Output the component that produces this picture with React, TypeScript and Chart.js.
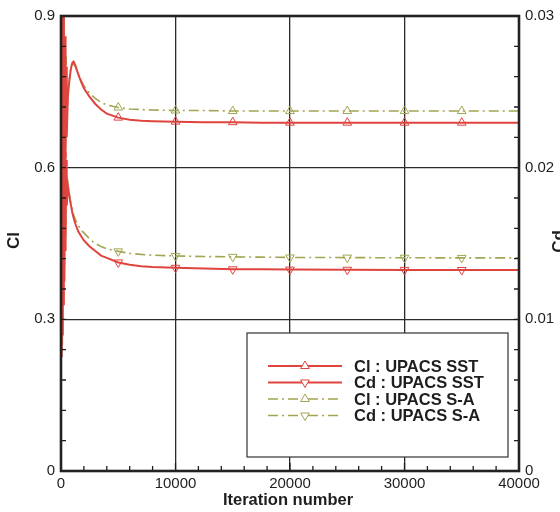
import { useEffect, useRef } from "react";
import { Chart, registerables } from "chart.js";

Chart.register(...registerables);

// Iteration numbers at which the coefficients are sampled
const iterations = [
  0, 40, 80, 120, 160, 200, 250, 300, 350, 400, 450, 500, 600, 700, 800, 900, 1000,
  1100, 1250, 1500, 1750, 2000, 2500, 3000, 3500, 4000, 5000, 6000, 7000, 8000,
  10000, 12500, 15000, 17500, 20000, 25000, 30000, 35000, 40000,
];

// Lift coefficient, SST turbulence model
const clSST = [
  0.98, 0.45, 0.95, 0.5, 0.92, 0.55, 0.9, 0.58, 0.86, 0.62, 0.8, 0.66, 0.74, 0.765, 0.785, 0.8, 0.808,
  0.81, 0.803, 0.785, 0.77, 0.757, 0.74, 0.726, 0.715, 0.707, 0.699, 0.695, 0.693, 0.692,
  0.691, 0.69, 0.69, 0.689, 0.689, 0.689, 0.689, 0.689, 0.689,
];

// Drag coefficient, SST turbulence model
const cdSST = [
  0.0205, 0.0075, 0.019, 0.009, 0.0205, 0.011, 0.0195, 0.0125, 0.021, 0.0145, 0.0205, 0.0175, 0.0188, 0.0183, 0.0178, 0.0174, 0.017,
  0.0167, 0.0163, 0.0158, 0.0155, 0.0152, 0.0148, 0.0145, 0.0142, 0.01405, 0.01375, 0.0136, 0.0135, 0.01345,
  0.0134, 0.01335, 0.0133, 0.0133, 0.01328, 0.01327, 0.01326, 0.01325, 0.01325,
];

// Lift coefficient, Spalart-Allmaras model
const clSA = [
  0.92, 0.6, 0.98, 0.47, 0.88, 0.62, 0.93, 0.6, 0.84, 0.64, 0.82, 0.68, 0.75, 0.77, 0.79, 0.8, 0.805,
  0.805, 0.8, 0.786, 0.773, 0.762, 0.747, 0.737, 0.729, 0.724, 0.719, 0.716, 0.715, 0.714,
  0.713, 0.713, 0.712, 0.712, 0.712, 0.712, 0.712, 0.712, 0.712,
];

// Drag coefficient, Spalart-Allmaras model
const cdSA = [
  0.019, 0.01, 0.0215, 0.008, 0.019, 0.0125, 0.021, 0.0135, 0.02, 0.0155, 0.0195, 0.018, 0.019, 0.0184, 0.0179, 0.0175, 0.0172,
  0.0169, 0.0166, 0.0162, 0.0159, 0.0157, 0.0153, 0.015, 0.0148, 0.01465, 0.01448, 0.01435, 0.01428, 0.01423,
  0.01418, 0.01414, 0.01412, 0.0141, 0.01408, 0.01407, 0.01406, 0.01405, 0.01405,
];

const xTicks = [0, 10000, 20000, 30000, 40000];
const clTicks = [0, 0.3, 0.6, 0.9];
const cdTicks = [0, 0.01, 0.02, 0.03];
const xMinorStep = 2000;
const cdMinorStep = 0.002;
const markerEvery = 5000;

const seriesLabels = ["Cl : UPACS SST", "Cd : UPACS SST", "Cl : UPACS S-A", "Cd : UPACS S-A"];

const RED = "#e0443e";
const OLIVE = "#a2a552";
const SA_DASH = [10, 4, 2, 4];
const INK = "#1e1e1e";
const FONT = "'Liberation Sans', Arial, Helvetica, sans-serif";

const markerRadius = (ctx: any) => {
  const it = iterations[ctx.dataIndex];
  return it > 0 && it < 40000 && it % markerEvery === 0 ? 5 : 0;
};

const toPoints = (values: number[]) => iterations.map((x, i) => ({ x, y: values[i] }));

// Frame, inward minor ticks, axis titles and the boxed legend
const decorations = {
  id: "decorations",
  afterDraw(chart: any) {
    const { ctx, chartArea: a, scales } = chart;
    const xs = scales.x;
    const yr = scales.y2;
    ctx.save();

    // minor ticks pointing into the plot
    ctx.strokeStyle = INK;
    ctx.lineWidth = 1.3;
    ctx.beginPath();
    for (let v = 0; v <= 40000 + 1; v += xMinorStep) {
      const px = xs.getPixelForValue(v);
      const len = v % 10000 === 0 ? 8 : 5;
      ctx.moveTo(px, a.bottom);
      ctx.lineTo(px, a.bottom - len);
    }
    for (let k = 0; k <= 15; k++) {
      const v = k * cdMinorStep;
      const py = yr.getPixelForValue(v);
      ctx.moveTo(a.left, py);
      ctx.lineTo(a.left + 5, py);
      ctx.moveTo(a.right, py);
      ctx.lineTo(a.right - 5, py);
    }
    ctx.stroke();

    // frame
    ctx.lineWidth = 2.6;
    ctx.strokeStyle = "#222";
    ctx.strokeRect(a.left, a.top, a.right - a.left, a.bottom - a.top);

    // axis titles
    ctx.fillStyle = INK;
    ctx.font = `bold 16.5px ${FONT}`;
    ctx.textAlign = "center";
    ctx.textBaseline = "middle";
    ctx.fillText("Iteration number", (a.left + a.right) / 2 - 2, 500);
    ctx.font = `bold 17px ${FONT}`;
    ctx.save();
    ctx.translate(14, (a.top + a.bottom) / 2 - 3);
    ctx.rotate(-Math.PI / 2);
    ctx.fillText("Cl", 0, 0);
    ctx.restore();
    ctx.save();
    ctx.translate(559, (a.top + a.bottom) / 2 - 2);
    ctx.rotate(-Math.PI / 2);
    ctx.fillText("Cd", 0, 0);
    ctx.restore();

    // legend
    const bx = 247, by = 333, bw = 261, bh = 124;
    ctx.fillStyle = "#ffffff";
    ctx.fillRect(bx, by, bw, bh);
    ctx.lineWidth = 1.2;
    ctx.strokeStyle = "#333";
    ctx.strokeRect(bx, by, bw, bh);
    const rows = [366, 382.5, 399, 415.5];
    const styles = [
      { color: RED, dash: [] as number[], down: false, width: 2 },
      { color: RED, dash: [] as number[], down: true, width: 2 },
      { color: OLIVE, dash: SA_DASH, down: false, width: 1.6 },
      { color: OLIVE, dash: SA_DASH, down: true, width: 1.6 },
    ];
    rows.forEach((ry, i) => {
      const s = styles[i];
      ctx.strokeStyle = s.color;
      ctx.lineWidth = s.width;
      ctx.setLineDash(s.dash);
      ctx.beginPath();
      ctx.moveTo(268, ry);
      ctx.lineTo(342, ry);
      ctx.stroke();
      ctx.setLineDash([]);
      // marker
      const r = 5;
      const cx = 305;
      ctx.lineWidth = 1;
      ctx.beginPath();
      if (!s.down) {
        ctx.moveTo(cx, ry - r);
        ctx.lineTo(cx + r * 0.87, ry + r * 0.5);
        ctx.lineTo(cx - r * 0.87, ry + r * 0.5);
      } else {
        ctx.moveTo(cx, ry + r);
        ctx.lineTo(cx + r * 0.87, ry - r * 0.5);
        ctx.lineTo(cx - r * 0.87, ry - r * 0.5);
      }
      ctx.closePath();
      ctx.fillStyle = "#fff";
      ctx.fill();
      ctx.stroke();
      ctx.fillStyle = INK;
      ctx.font = `bold 16.5px ${FONT}`;
      ctx.textAlign = "left";
      ctx.textBaseline = "middle";
      ctx.fillText(seriesLabels[i], 354, ry + 1);
    });

    ctx.restore();
  },
};

export default function App() {
  const canvasRef = useRef<HTMLCanvasElement | null>(null);

  useEffect(() => {
    if (!canvasRef.current) return;
    const tickFont = { family: FONT, size: 15 };
    const chart = new Chart(canvasRef.current, {
      type: "line",
      data: {
        datasets: [
          {
            label: seriesLabels[0],
            data: toPoints(clSST),
            yAxisID: "y",
            borderColor: RED,
            borderWidth: 2,
            pointStyle: "triangle",
            pointRadius: markerRadius,
            pointBorderColor: RED,
            pointBackgroundColor: "rgba(255,255,255,0)",
            pointBorderWidth: 1,
            tension: 0,
          },
          {
            label: seriesLabels[1],
            data: toPoints(cdSST),
            yAxisID: "y2",
            borderColor: RED,
            borderWidth: 2,
            pointStyle: "triangle",
            pointRotation: 180,
            pointRadius: markerRadius,
            pointBorderColor: RED,
            pointBackgroundColor: "rgba(255,255,255,0)",
            pointBorderWidth: 1,
            tension: 0,
          },
          {
            label: seriesLabels[2],
            data: toPoints(clSA),
            yAxisID: "y",
            borderColor: OLIVE,
            borderWidth: 1.6,
            borderDash: SA_DASH,
            pointStyle: "triangle",
            pointRadius: markerRadius,
            pointBorderColor: OLIVE,
            pointBackgroundColor: "rgba(255,255,255,0)",
            pointBorderWidth: 1,
            tension: 0,
          },
          {
            label: seriesLabels[3],
            data: toPoints(cdSA),
            yAxisID: "y2",
            borderColor: OLIVE,
            borderWidth: 1.6,
            borderDash: SA_DASH,
            pointStyle: "triangle",
            pointRotation: 180,
            pointRadius: markerRadius,
            pointBorderColor: OLIVE,
            pointBackgroundColor: "rgba(255,255,255,0)",
            pointBorderWidth: 1,
            tension: 0,
          },
        ],
      },
      options: {
        animation: false,
        responsive: false,
        devicePixelRatio: 1,
        layout: { padding: { top: 16, left: 0, right: 0, bottom: 0 } },
        plugins: { legend: { display: false }, tooltip: { enabled: false } },
        scales: {
          x: {
            type: "linear",
            min: 0,
            max: 40000,
            afterBuildTicks: (s: any) => {
              s.ticks = xTicks.map((value) => ({ value }));
            },
            afterFit: (s: any) => {
              s.height = 41;
            },
            ticks: {
              callback: (v: any) => String(v),
              font: tickFont,
              color: INK,
              padding: 4,
              maxRotation: 0,
              autoSkip: false,
            },
            grid: { color: "#2a2a2a", lineWidth: 1.3, drawTicks: false },
            border: { display: false },
          },
          y: {
            type: "linear",
            position: "left",
            min: 0,
            max: 0.9,
            afterBuildTicks: (s: any) => {
              s.ticks = clTicks.map((value) => ({ value }));
            },
            afterFit: (s: any) => {
              s.width = 61;
            },
            ticks: {
              callback: (v: any) => String(v),
              font: tickFont,
              color: INK,
              padding: 6,
            },
            grid: { color: "#2a2a2a", lineWidth: 1.3, drawTicks: false },
            border: { display: false },
          },
          y2: {
            type: "linear",
            position: "right",
            min: 0,
            max: 0.03,
            afterBuildTicks: (s: any) => {
              s.ticks = cdTicks.map((value) => ({ value }));
            },
            afterFit: (s: any) => {
              s.width = 41;
            },
            ticks: {
              callback: (v: any) => String(v),
              font: tickFont,
              color: INK,
              padding: 6,
            },
            grid: { drawOnChartArea: false, drawTicks: false },
            border: { display: false },
          },
        },
      } as any,
      plugins: [decorations],
    });
    return () => chart.destroy();
  }, []);

  return (
    <div style={{ position: "absolute", left: 0, top: 0, width: 560, height: 512, background: "#fff" }}>
      <canvas ref={canvasRef} width={560} height={512} />
    </div>
  );
}
